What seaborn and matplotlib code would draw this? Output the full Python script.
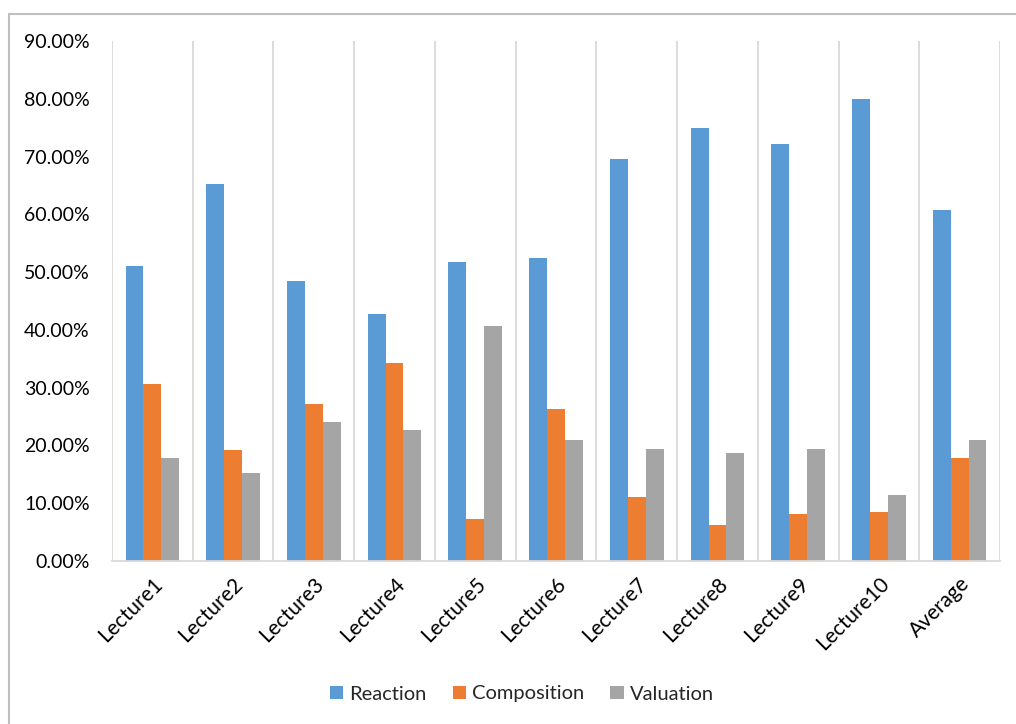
import matplotlib
matplotlib.use("Agg")
import matplotlib.pyplot as plt
from matplotlib.patches import Rectangle
from matplotlib.ticker import PercentFormatter, FixedLocator
import seaborn as sns
import pandas as pd

# Share of each question type per lecture (percent)
lectures = ["Lecture1", "Lecture2", "Lecture3", "Lecture4", "Lecture5", "Lecture6",
            "Lecture7", "Lecture8", "Lecture9", "Lecture10", "Average"]
reaction = [51.1, 65.3, 48.5, 42.7, 51.7, 52.5, 69.5, 74.9, 72.2, 80.0, 60.8]
composition = [30.6, 19.2, 27.2, 34.2, 7.3, 26.3, 11.1, 6.2, 8.2, 8.5, 17.8]
valuation = [17.8, 15.3, 24.1, 22.7, 40.6, 20.9, 19.4, 18.7, 19.4, 11.4, 21.0]
measures = ["Reaction", "Composition", "Valuation"]
colors = ["#5B9BD5", "#ED7D31", "#A5A5A5"]

df = pd.DataFrame({
    "Lecture": lectures * 3,
    "Measure": [m for m in measures for _ in lectures],
    "Share": reaction + composition + valuation,
})

sns.set_theme(style="white")
plt.rcParams["font.family"] = ["Lato", "DejaVu Sans"]

fig = plt.figure(figsize=(10.16, 7.24), dpi=100)
ax = fig.add_axes([112 / 1016, 1 - 561 / 724, (1000 - 112) / 1016, (561 - 41) / 724])

sns.barplot(data=df, x="Lecture", y="Share", hue="Measure", order=lectures,
            hue_order=measures, palette=colors, saturation=1, width=0.665,
            gap=0, linewidth=0, ax=ax)

ax.set_xlim(-0.5, len(lectures) - 0.5)
ax.set_ylim(0, 90)
ax.set_yticks(range(0, 91, 10))
ax.yaxis.set_major_formatter(PercentFormatter(decimals=2))
ax.set_xlabel("")
ax.set_ylabel("")

# Category separators instead of horizontal gridlines
ax.xaxis.set_minor_locator(FixedLocator([i - 0.5 for i in range(len(lectures) + 1)]))
ax.grid(False)
ax.grid(True, which="minor", axis="x", color="#D9D9D9", linewidth=1.3)
for side in ["top", "right", "left"]:
    ax.spines[side].set_visible(False)
ax.spines["bottom"].set_color("#D9D9D9")
ax.spines["bottom"].set_linewidth(1.3)
ax.set_axisbelow(True)

ax.tick_params(axis="both", which="both", length=0)
ax.tick_params(axis="y", labelsize=14, pad=16, colors="#000000")
ax.tick_params(axis="x", labelsize=15, pad=9, colors="#000000")
for lbl in ax.get_xticklabels():
    lbl.set_rotation(45)
    lbl.set_ha("right")
    lbl.set_rotation_mode("anchor")

handles, labels = ax.get_legend_handles_labels()
ax.legend_.remove()
fig.legend(handles, labels, loc="center", bbox_to_anchor=(522 / 1016, 1 - 694 / 724),
           ncol=3, frameon=False, fontsize=14.5, handlelength=0.65, handleheight=0.65,
           handletextpad=0.3, columnspacing=1.3)

# Chart-area frame
fig.patches.append(Rectangle((8.5 / 1016, -0.05), 1.1, 0.05 + 1 - 13.5 / 724,
                             transform=fig.transFigure, fill=False,
                             edgecolor="#BFBFBF", linewidth=1.5))

fig.savefig("out.png", dpi=100, facecolor="white")
